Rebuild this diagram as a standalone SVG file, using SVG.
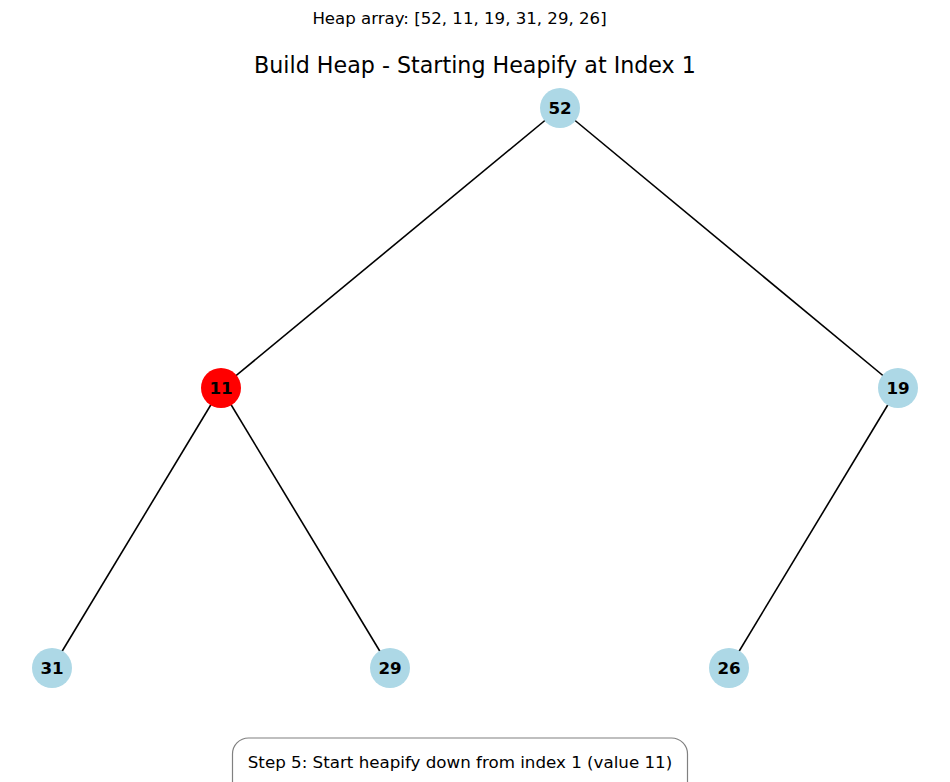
<svg xmlns="http://www.w3.org/2000/svg" width="950" height="782" viewBox="0 0 950 782">
<style>
.e{stroke:#000;stroke-width:1.6;fill:none}
.n{fill:#ADD8E6}
.r{fill:#FF0000}
.l{font-family:"DejaVu Sans",sans-serif;font-weight:bold;font-size:16.7px;text-anchor:middle;dominant-baseline:central;fill:#000}
.t{font-family:"DejaVu Sans",sans-serif;text-anchor:middle;fill:#000}
</style>
<rect width="950" height="782" fill="#fff"/>
<text class="t" x="459.5" y="24" font-size="16.6px">Heap array: [52, 11, 19, 31, 29, 26]</text>
<text class="t" x="475" y="72.5" font-size="22.2px">Build Heap - Starting Heapify at Index 1</text>
<g id="edges">
<line class="e" x1="560" y1="108" x2="221" y2="388"/>
<line class="e" x1="560" y1="108" x2="898" y2="388"/>
<line class="e" x1="221" y1="388" x2="52" y2="668"/>
<line class="e" x1="221" y1="388" x2="390" y2="668"/>
<line class="e" x1="898" y1="388" x2="729" y2="668"/>
</g>
<g id="n52"><circle class="n" cx="560" cy="108" r="20"/><text class="l" x="560" y="108">52</text></g>
<g id="n11"><circle class="r" cx="221" cy="388" r="20"/><text class="l" x="221" y="388">11</text></g>
<g id="n19"><circle class="n" cx="898" cy="388" r="20"/><text class="l" x="898" y="388">19</text></g>
<g id="n31"><circle class="n" cx="52" cy="668" r="20"/><text class="l" x="52" y="668">31</text></g>
<g id="n29"><circle class="n" cx="390" cy="668" r="20"/><text class="l" x="390" y="668">29</text></g>
<g id="n26"><circle class="n" cx="729" cy="668" r="20"/><text class="l" x="729" y="668">26</text></g>
<g id="caption">
<rect x="232.5" y="738" width="455" height="70" rx="16" fill="#fff" stroke="#808080" stroke-width="1.2"/>
<text class="t" x="460" y="768" font-size="16.7px">Step 5: Start heapify down from index 1 (value 11)</text>
</g>
</svg>
